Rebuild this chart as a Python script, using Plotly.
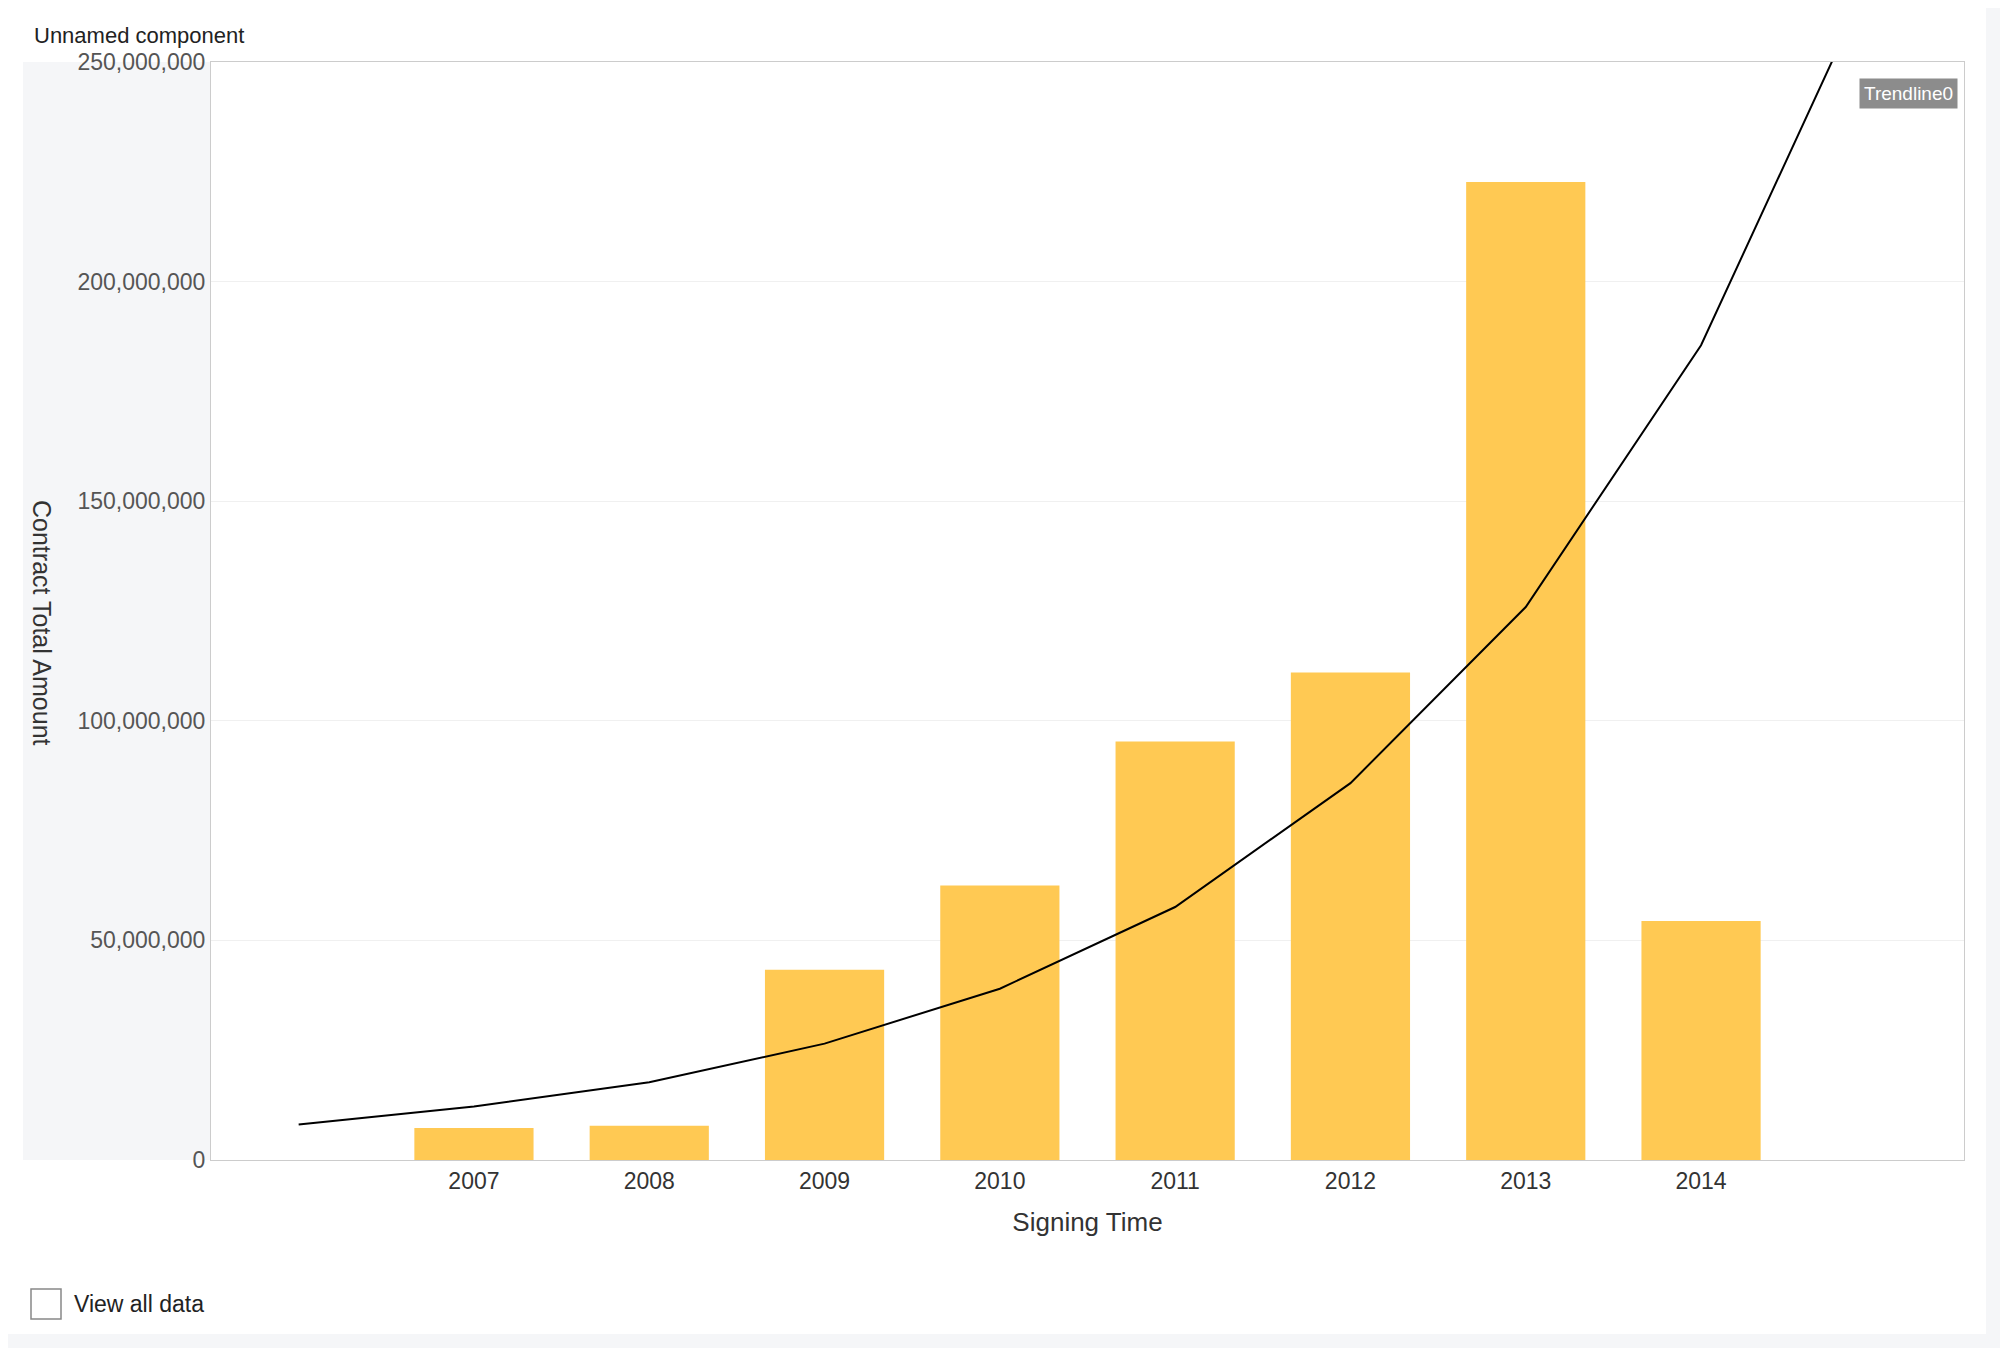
import plotly.graph_objects as go

years = [2007, 2008, 2009, 2010, 2011, 2012, 2013, 2014]
amounts = [7300000, 7800000, 43300000, 62500000, 95300000, 111000000, 222700000, 54400000]
trend_x = [2006, 2007, 2008, 2009, 2010, 2011, 2012, 2013, 2014, 2015]
trend_y = [8100000, 12200000, 17700000, 26500000, 39000000, 57600000, 85800000, 125900000, 185500000, 272000000]

W, H = 2008, 1348
L, R, T, B = 203, 1956, 54, 1152
def px(x): return (x - L) / (R - L)
def py(y): return (B - y) / (B - T)

fig = go.Figure()
fig.add_bar(x=years, y=amounts, width=0.68, marker=dict(color="#FFC953", line=dict(width=0)), showlegend=False)
fig.add_scatter(x=trend_x, y=trend_y, mode="lines", line=dict(color="black", width=2), showlegend=False, cliponaxis=True)

font = "Liberation Sans, Arial, sans-serif"
fig.update_layout(
    width=W, height=H, margin=dict(l=L, r=W - R, t=T, b=H - B),
    paper_bgcolor="white", plot_bgcolor="white",
    font=dict(family=font, color="#333"),
    xaxis=dict(range=[2005.5, 2015.5], tickvals=years, ticktext=[str(y) for y in years],
               tickfont=dict(size=23, color="#333"), showgrid=False, zeroline=False,
               showline=True, linecolor="#cccccc", mirror=True,
               title=dict(text="Signing Time", font=dict(size=26, color="#333"), standoff=20)),
    yaxis=dict(range=[0, 250000000], tickvals=[0, 50000000, 100000000, 150000000, 200000000, 250000000],
               tickformat=",d", tickfont=dict(size=23, color="#555"), gridcolor="#f0f0f0",
               zeroline=False, showline=True, linecolor="#cccccc", mirror=True, ticks="", ticklen=6),
    bargap=0.32,
)
shapes = [
    dict(type="rect", xref="paper", yref="paper", x0=px(15), x1=0, y0=0, y1=1, fillcolor="#f5f6f8", line_width=0, layer="below"),
    dict(type="rect", xref="paper", yref="paper", x0=px(1978), x1=px(2010), y0=py(1350), y1=py(0), fillcolor="#f5f6f8", line_width=0, layer="below"),
    dict(type="rect", xref="paper", yref="paper", x0=px(0), x1=px(2010), y0=py(1350), y1=py(1326), fillcolor="#f5f6f8", line_width=0, layer="below"),
    dict(type="rect", xref="paper", yref="paper", x0=px(23), x1=px(53), y0=py(1311), y1=py(1281), fillcolor="white", line=dict(color="#888", width=1.5)),
]
fig.update_layout(shapes=shapes)
fig.add_annotation(xref="paper", yref="paper", x=px(34), y=py(615), text="Contract Total Amount", showarrow=False,
                   textangle=90, xanchor="center", yanchor="middle", font=dict(size=25, color="#333"))
fig.add_annotation(xref="paper", yref="paper", x=px(24), y=py(27), text="Unnamed component", showarrow=False,
                   xanchor="left", yanchor="middle", font=dict(size=22, color="#222"))
fig.add_annotation(xref="paper", yref="paper", x=px(64), y=py(1296), text="View all data", showarrow=False,
                   xanchor="left", yanchor="middle", font=dict(size=23, color="#222"))
fig.add_annotation(xref="paper", yref="paper", x=px(1900), y=py(86), text="Trendline0", showarrow=False,
                   xanchor="center", yanchor="middle", font=dict(size=19, color="white"),
                   bgcolor="#8c8c8c", borderpad=4)
fig.write_html("out.html")
